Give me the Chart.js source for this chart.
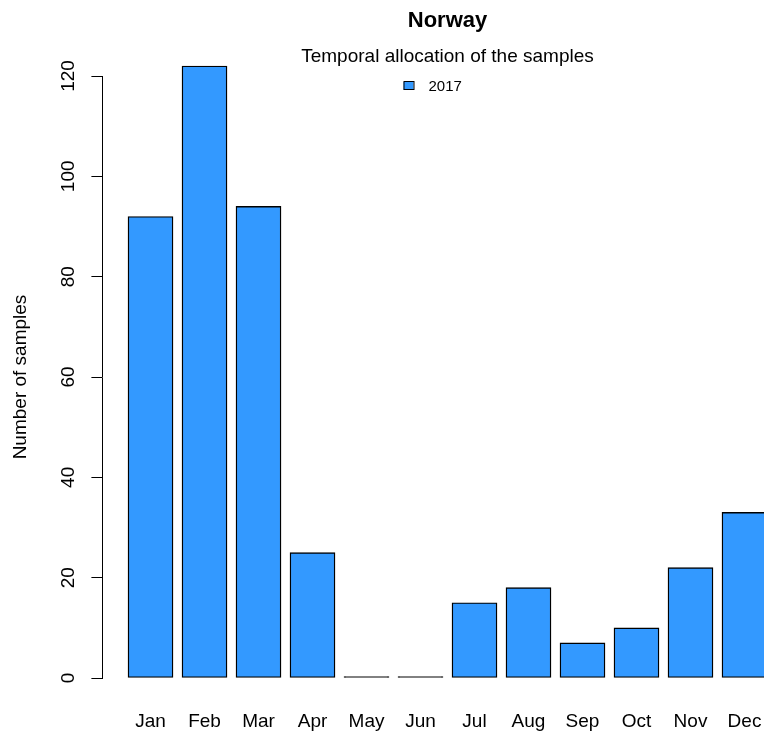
<!DOCTYPE html>
<html>
<head>
<meta charset="utf-8">
<script src="https://cdn.jsdelivr.net/npm/chart.js@4"></script>
<style>
  html, body { margin: 0; padding: 0; overflow: hidden; background: #fff; }
  #wrap { width: 764px; height: 733px; overflow: hidden; }
  canvas { display: block; }
</style>
</head>
<body>
<div id="wrap"><canvas id="grafico" width="800" height="733"></canvas></div>
<script>
// Norway - samples per month, 2017
const meses = ['Jan', 'Feb', 'Mar', 'Apr', 'May', 'Jun', 'Jul', 'Aug', 'Sep', 'Oct', 'Nov', 'Dec'];
const amostras2017 = [92, 122, 94, 25, 0, 0, 15, 18, 7, 10, 22, 33];
const serie = '2017';
const yTicks = [0, 20, 40, 60, 80, 100, 120];

const fonte = '"Liberation Sans", Arial, Helvetica, sans-serif';
const azul = '#3399FF';

// legenda no estilo R, dentro da area do grafico
const legendaR = {
  id: 'legendaR',
  afterDraw(chart) {
    const ctx = chart.ctx;
    const area = chart.chartArea;
    const cx = (area.left + area.right) / 2;
    ctx.save();
    ctx.fillStyle = azul;
    ctx.strokeStyle = '#000';
    ctx.lineWidth = 1;
    ctx.fillRect(cx - 44, 82, 10, 8);
    ctx.strokeRect(cx - 43.5, 81.5, 10, 8);
    ctx.fillStyle = '#000';
    ctx.font = '15px ' + fonte;
    ctx.textBaseline = 'middle';
    ctx.textAlign = 'left';
    ctx.fillText(serie, cx - 19, 86.5);
    ctx.restore();
  }
};

const dados = amostras2017.map((v, i) => ({ x: i, y: v }));

new Chart(document.getElementById('grafico'), {
  type: 'bar',
  data: {
    datasets: [
      {
        label: serie,
        data: dados,
        // barras com zero aparecem como uma linha preta (como no R)
        backgroundColor: (c) => (c.raw && c.raw.y === 0 ? '#000' : azul),
        borderColor: '#000',
        borderWidth: 1.4,
        borderSkipped: false,
        barThickness: 45,
        minBarLength: 1.5,
        clip: false
      }
    ]
  },
  options: {
    responsive: false,
    animation: false,
    layout: { padding: { left: 0, right: 7.4, top: 0, bottom: 0 } },
    plugins: {
      legend: { display: false },
      tooltip: { enabled: false },
      title: {
        display: true,
        fullSize: false,
        text: 'Norway',
        color: '#000',
        font: { family: fonte, size: 22, weight: 'bold' },
        padding: { top: 7.8, bottom: 0 }
      },
      subtitle: {
        display: true,
        fullSize: false,
        text: 'Temporal allocation of the samples',
        color: '#000',
        font: { family: fonte, size: 19 },
        padding: { top: 11.4, bottom: 7.6 }
      }
    },
    scales: {
      x: {
        type: 'linear',
        offset: false,
        min: -0.891,
        max: 11.891,
        grid: { display: false, drawTicks: false, offset: false },
        border: { display: false },
        ticks: {
          stepSize: 1,
          includeBounds: false,
          autoSkip: false,
          maxRotation: 0,
          padding: 32,
          color: '#000',
          font: { family: fonte, size: 19 },
          callback: (v) => meses[v]
        },
        afterFit: (s) => { s.height = 55; }
      },
      y: {
        min: 0,
        max: 120,
        grid: {
          display: true,
          drawOnChartArea: false,
          drawTicks: true,
          tickLength: 11,
          color: '#000',
          lineWidth: 1
        },
        border: { display: true, color: '#000', width: 1 },
        afterBuildTicks: (s) => { s.ticks = yTicks.map(v => ({ value: v })); },
        ticks: {
          minRotation: 90,
          maxRotation: 90,
          crossAlign: 'center',
          padding: 7,
          color: '#000',
          font: { family: fonte, size: 19 }
        },
        title: {
          display: true,
          text: 'Number of samples',
          color: '#000',
          font: { family: fonte, size: 19 },
          padding: { top: 9.6, bottom: 0 }
        },
        afterFit: (s) => { s.width = 102.4; }
      }
    }
  },
  plugins: [legendaR]
});
</script>
</body>
</html>
